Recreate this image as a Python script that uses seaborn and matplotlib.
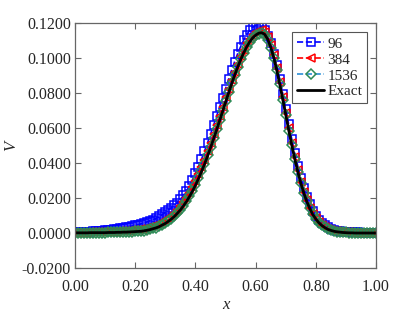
import numpy as np
import pandas as pd
import seaborn as sns
import matplotlib.pyplot as plt

sns.set_style("ticks")
plt.rcParams['font.family'] = ['Liberation Serif', 'DejaVu Serif']
plt.rcParams['mathtext.fontset'] = 'stix'

# sample grid x = 0.00, 0.01, ..., 1.00
x_vals = np.linspace(0.0, 1.0, 101)

v_96 = [
    0.0004, 0.0004, 0.0005, 0.0005, 0.0007, 0.0008, 0.0009, 0.0010, 0.0011, 0.0012,
    0.0015, 0.0017, 0.0019, 0.0022, 0.0024, 0.0027, 0.0030, 0.0033, 0.0037, 0.0040,
    0.0044, 0.0047, 0.0053, 0.0058, 0.0064, 0.0071, 0.0077, 0.0085, 0.0096, 0.0106,
    0.0120, 0.0133, 0.0145, 0.0158, 0.0174, 0.0193, 0.0215, 0.0240, 0.0269, 0.0304,
    0.0341, 0.0380, 0.0422, 0.0468, 0.0515, 0.0564, 0.0615, 0.0667, 0.0719, 0.0771,
    0.0825, 0.0879, 0.0930, 0.0979, 0.1024, 0.1065, 0.1102, 0.1133, 0.1158, 0.1176,
    0.1186, 0.1185, 0.1175, 0.1160, 0.1128, 0.1084, 0.1026, 0.0958, 0.0881, 0.0797,
    0.0710, 0.0622, 0.0537, 0.0457, 0.0383, 0.0316, 0.0257, 0.0206, 0.0164, 0.0128,
    0.0099, 0.0076, 0.0058, 0.0044, 0.0033, 0.0025, 0.0019, 0.0014, 0.0011, 0.0008,
    0.0006, 0.0005, 0.0004, 0.0003, 0.0003, 0.0002, 0.0002, 0.0002, 0.0001, 0.0001,
    0.0001,
]

v_384 = [
    0.0002, 0.0002, 0.0002, 0.0002, 0.0002, 0.0004, 0.0004, 0.0004, 0.0004, 0.0005,
    0.0005, 0.0006, 0.0006, 0.0007, 0.0008, 0.0009, 0.0010, 0.0011, 0.0013, 0.0015,
    0.0017, 0.0019, 0.0021, 0.0024, 0.0029, 0.0033, 0.0039, 0.0045, 0.0053, 0.0062,
    0.0072, 0.0084, 0.0098, 0.0114, 0.0133, 0.0153, 0.0177, 0.0203, 0.0231, 0.0264,
    0.0299, 0.0337, 0.0378, 0.0420, 0.0467, 0.0515, 0.0565, 0.0616, 0.0669, 0.0722,
    0.0775, 0.0826, 0.0877, 0.0923, 0.0968, 0.1010, 0.1049, 0.1084, 0.1111, 0.1132,
    0.1147, 0.1157, 0.1158, 0.1150, 0.1122, 0.1077, 0.1018, 0.0946, 0.0865, 0.0777,
    0.0688, 0.0598, 0.0512, 0.0432, 0.0358, 0.0292, 0.0235, 0.0186, 0.0145, 0.0111,
    0.0084, 0.0063, 0.0047, 0.0035, 0.0025, 0.0018, 0.0013, 0.0009, 0.0007, 0.0005,
    0.0004, 0.0003, 0.0002, 0.0002, 0.0001, 0.0001, 0.0001, 0.0001, 0.0001, 0.0001,
    0.0001,
]

v_1536 = [
    0.0001, 0.0001, 0.0001, 0.0001, 0.0001, 0.0002, 0.0002, 0.0002, 0.0002, 0.0002,
    0.0002, 0.0003, 0.0003, 0.0004, 0.0004, 0.0005, 0.0005, 0.0006, 0.0007, 0.0008,
    0.0009, 0.0010, 0.0011, 0.0014, 0.0017, 0.0021, 0.0026, 0.0031, 0.0038, 0.0047,
    0.0057, 0.0068, 0.0082, 0.0097, 0.0115, 0.0134, 0.0157, 0.0183, 0.0211, 0.0242,
    0.0277, 0.0315, 0.0355, 0.0397, 0.0444, 0.0492, 0.0542, 0.0593, 0.0646, 0.0699,
    0.0753, 0.0805, 0.0857, 0.0905, 0.0951, 0.0993, 0.1031, 0.1064, 0.1092, 0.1114,
    0.1130, 0.1140, 0.1142, 0.1133, 0.1105, 0.1060, 0.1001, 0.0929, 0.0849, 0.0762,
    0.0674, 0.0586, 0.0501, 0.0423, 0.0350, 0.0286, 0.0229, 0.0181, 0.0141, 0.0107,
    0.0081, 0.0060, 0.0044, 0.0032, 0.0022, 0.0016, 0.0011, 0.0008, 0.0005, 0.0004,
    0.0003, 0.0002, 0.0002, 0.0001, 0.0001, 0.0001, 0.0001, 0.0001, 0.0001, 0.0001,
    0.0001,
]

v_exact = [
    0.0001, 0.0001, 0.0001, 0.0001, 0.0001, 0.0002, 0.0002, 0.0002, 0.0002, 0.0002,
    0.0002, 0.0003, 0.0003, 0.0003, 0.0004, 0.0004, 0.0005, 0.0005, 0.0006, 0.0007,
    0.0008, 0.0009, 0.0010, 0.0013, 0.0016, 0.0020, 0.0025, 0.0030, 0.0037, 0.0046,
    0.0055, 0.0067, 0.0080, 0.0095, 0.0113, 0.0132, 0.0155, 0.0180, 0.0208, 0.0239,
    0.0273, 0.0311, 0.0351, 0.0393, 0.0439, 0.0487, 0.0537, 0.0588, 0.0641, 0.0694,
    0.0748, 0.0800, 0.0852, 0.0901, 0.0947, 0.0990, 0.1029, 0.1063, 0.1092, 0.1115,
    0.1131, 0.1142, 0.1145, 0.1136, 0.1108, 0.1063, 0.1004, 0.0932, 0.0852, 0.0765,
    0.0677, 0.0588, 0.0503, 0.0424, 0.0351, 0.0286, 0.0229, 0.0180, 0.0140, 0.0106,
    0.0080, 0.0059, 0.0043, 0.0031, 0.0021, 0.0015, 0.0010, 0.0007, 0.0005, 0.0003,
    0.0002, 0.0001, 0.0001, 0.0000, 0.0000, 0.0000, 0.0000, 0.0000, 0.0000, 0.0000,
    0.0000,
]

x_ticks = [0.0, 0.2, 0.4, 0.6, 0.8, 1.0]
y_ticks = [-0.02, 0.0, 0.02, 0.04, 0.06, 0.08, 0.10, 0.12]

fig = plt.figure(figsize=(4.15, 3.12), dpi=100)
ax = fig.add_axes([0.181, 0.141, 0.725, 0.785])

common = dict(ax=ax, estimator=None, sort=False, linestyle='--', linewidth=1.2,
              markerfacecolor='none', markersize=5.3, markeredgewidth=1.1)
sns.lineplot(x=x_vals, y=v_96, color='#0000ff', marker='s',
             markeredgecolor='#0000ff', label='96', **common)
sns.lineplot(x=x_vals, y=v_384, color='#ff0000', marker='<',
             markeredgecolor='#ff0000', label='384', **common)
sns.lineplot(x=x_vals, y=v_1536, color='#2b8fd8', marker='D',
             markeredgecolor='#2e8b57', label='1536', **common)
sns.lineplot(x=x_vals, y=v_exact, ax=ax, color='black', linewidth=2.0,
             estimator=None, sort=False, label='Exact')

ax.set_xlim(0, 1)
ax.set_ylim(-0.02, 0.12)
ax.set_xticks(x_ticks)
ax.set_yticks(y_ticks)
ax.set_xticklabels([f'{t:.2f}' for t in x_ticks])
ax.set_yticklabels([f'{t:.4f}' for t in y_ticks])
ax.tick_params(direction='in', top=True, right=True, length=4, width=0.8,
               color='#666666', labelsize=11.5, labelcolor='#262626')
ax.tick_params(axis='x', pad=8)
ax.tick_params(axis='y', pad=3)
for sp in ax.spines.values():
    sp.set_color('#666666')
    sp.set_linewidth(0.9)

ax.set_xlabel('x', fontsize=12, style='italic', labelpad=1)
ax.set_ylabel('V', fontsize=12, style='italic', labelpad=2)

leg = ax.legend(loc='upper right', fontsize=11, frameon=True, fancybox=False,
                framealpha=1, edgecolor='#555555', borderaxespad=0.6,
                handlelength=1.8, handletextpad=0.2, borderpad=0.3,
                labelspacing=0.15)
leg.get_frame().set_linewidth(0.8)

fig.savefig('out.png', dpi=100)
